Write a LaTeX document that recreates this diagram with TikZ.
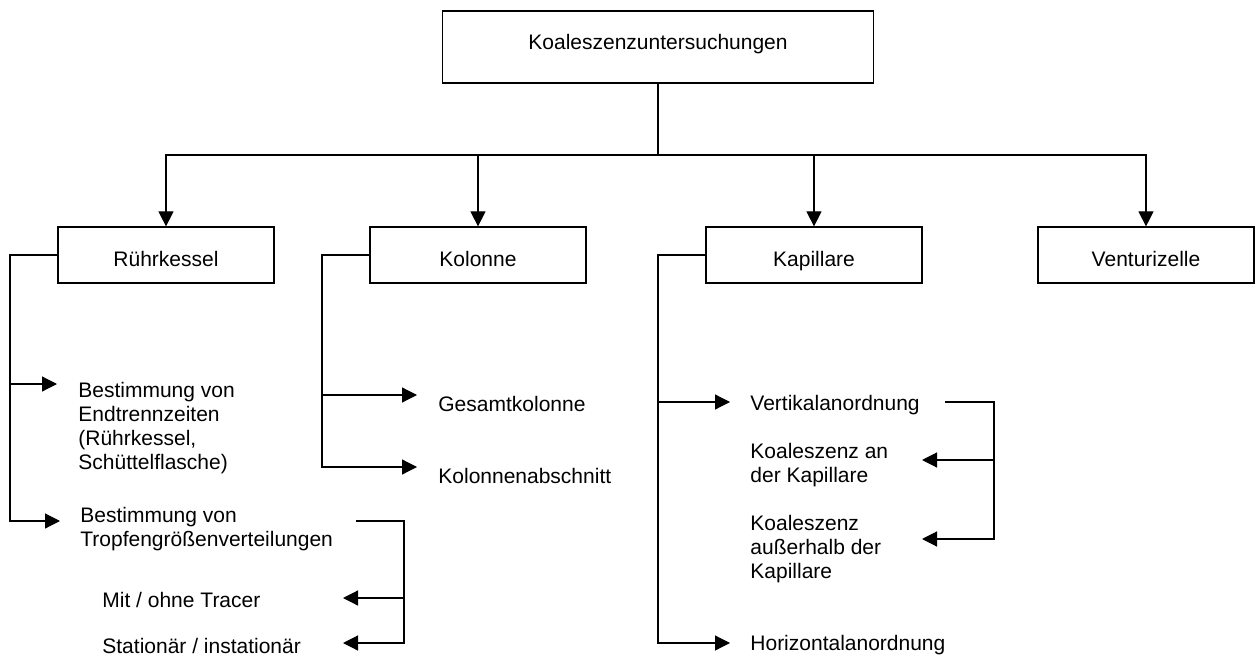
\documentclass[tikz,border=0pt]{standalone}
\usepackage{fontspec}
\setmainfont{Liberation Sans}
\usetikzlibrary{arrows.meta}
\usetikzlibrary{positioning}
\tikzstyle{linie} = [line width=0.6pt]
\tikzstyle{pfeil} = [linie, -{Triangle[length=7.5pt,width=7.5pt]}]
\tikzstyle{kasten} = [draw, linie, rectangle, inner sep=0pt,
        minimum width=108pt, minimum height=28pt,
        text height=14pt, text depth=2pt]
\tikzstyle{eintrag} = [anchor=north west, inner sep=0pt, align=left]

\begin{document}
\begin{tikzpicture}[x=0.5pt, y=-0.5pt, font=\fontsize{10.5}{12}\selectfont]
            \useasboundingbox (0,0) rectangle (1256,657);
            % Hauptebene
            \node [kasten, minimum width=215.5pt, minimum height=36pt,
                text height=5pt, text depth=2pt] (koal) at (658,47) {Koaleszenzuntersuchungen};
            \node [kasten] (ruehr) at (166,255) {Rührkessel};
            \node [kasten] (kolonne) at (478,255) {Kolonne};
            \node [kasten] (kapillare) at (814,255) {Kapillare};
            \node [kasten] (venturi) at (1146,255) {Venturizelle};
            \coordinate (verteiler) at (658,155);
            \draw [linie] (koal) -- (verteiler);
            \draw [pfeil] (verteiler) -| (ruehr);
            \draw [pfeil] (verteiler) -| (kolonne);
            \draw [pfeil] (verteiler) -| (kapillare);
            \draw [pfeil] (verteiler) -| (venturi);
            % Rührkessel
            \node [eintrag] (endtrenn) at (78,382) {Bestimmung von\\Endtrennzeiten\\(Rührkessel,\\Schüttelflasche)};
            \node [eintrag] (tropfen) at (80,507) {Bestimmung von\\Tropfengrößenverteilungen};
            \node [eintrag] (tracer) at (102,592) {Mit / ohne Tracer};
            \node [eintrag] (stationaer) at (102,638) {Stationär / instationär};
            \coordinate (rkbus) at (10,0);
            \coordinate (rk1) at (57,384);
            \coordinate (rk2) at (60,521);
            \draw [pfeil] (ruehr.west) -| (rkbus |- rk2) -- (rk2);
            \draw [pfeil] (rkbus |- rk1) -- (rk1);
            \coordinate (tvstart) at (356,521);
            \coordinate (tvbus) at (404,0);
            \coordinate (tv1) at (343,598);
            \coordinate (tv2) at (343,643);
            \draw [pfeil] (tvstart) -| (tvbus |- tv2) -- (tv2);
            \draw [pfeil] (tvbus |- tv1) -- (tv1);
            % Kolonne
            \node [eintrag] (gesamt) at (438,396) {Gesamtkolonne};
            \node [eintrag] (abschnitt) at (438,468) {Kolonnenabschnitt};
            \coordinate (kobus) at (322,0);
            \coordinate (ko1) at (417,395);
            \coordinate (ko2) at (417,467);
            \draw [pfeil] (kolonne.west) -| (kobus |- ko2) -- (ko2);
            \draw [pfeil] (kobus |- ko1) -- (ko1);
            % Kapillare
            \node [eintrag] (vertikal) at (750,395) {Vertikalanordnung};
            \node [eintrag] (koalan) at (750,443) {Koaleszenz an\\der Kapillare};
            \node [eintrag] (koalaus) at (750,515) {Koaleszenz\\außerhalb der\\Kapillare};
            \node [eintrag] (horizontal) at (750,635) {Horizontalanordnung};
            \coordinate (kabus) at (658,0);
            \coordinate (ka1) at (730,402);
            \coordinate (ka2) at (730,643);
            \draw [pfeil] (kapillare.west) -| (kabus |- ka2) -- (ka2);
            \draw [pfeil] (kabus |- ka1) -- (ka1);
            \coordinate (vastart) at (945,402);
            \coordinate (vabus) at (994,0);
            \coordinate (va1) at (922,460);
            \coordinate (va2) at (922,539);
            \draw [pfeil] (vastart) -| (vabus |- va2) -- (va2);
            \draw [pfeil] (vabus |- va1) -- (va1);
        \end{tikzpicture}
\end{document}
